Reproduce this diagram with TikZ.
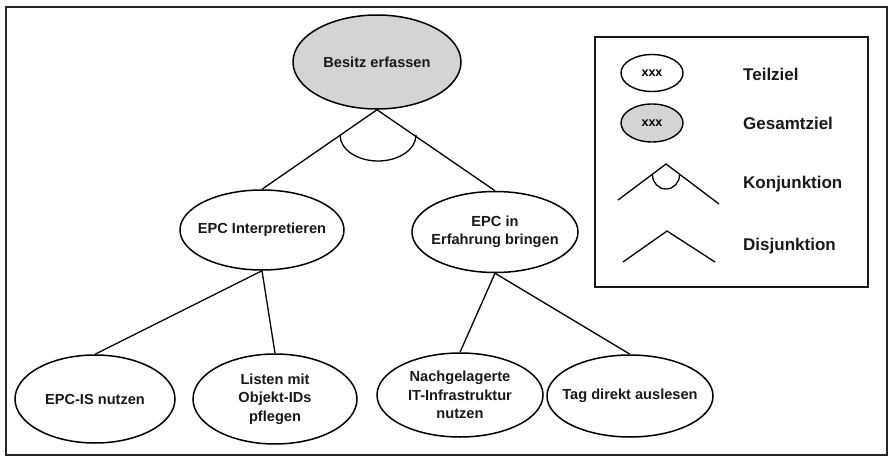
\documentclass[tikz,border=0pt]{standalone}
\usepackage{fontspec}
\setmainfont{Liberation Sans}
\usetikzlibrary{shapes.geometric}
\begin{document}
\begin{tikzpicture}[x=1pt,y=-1pt,
  goal/.style={ellipse, draw=black, line width=1.5pt, inner sep=0pt, fill=white},
  mainfill/.style={fill=black!17},
  txt/.style={align=center, inner sep=0pt, text=black!90, font=\bfseries\fontsize{14.6}{18.5}\selectfont},
  legtxt/.style={anchor=west, inner sep=0pt, text=black!90, font=\bfseries\fontsize{17}{19}\selectfont},
  xxx/.style={font=\bfseries\fontsize{12.5}{13}\selectfont},
  link/.style={line width=1.3pt, draw=black}]
\useasboundingbox (0,0) rectangle (891,457);
\draw[line width=2pt, draw=black!85] (6,7) rectangle (887,455);

% goal tree
\node[goal, mainfill, minimum width=168pt, minimum height=94pt,
      label={[txt]center:Besitz erfassen}] (top) at (377,62) {};
\node[goal, minimum width=164pt, minimum height=80pt,
      label={[txt]center:EPC Interpretieren}] (interp) at (262,230) {};
\node[goal, minimum width=166pt, minimum height=81pt,
      label={[txt]center:{EPC in\\Erfahrung bringen}}] (erf) at (495,232) {};
\node[goal, minimum width=160pt, minimum height=88pt,
      label={[txt]center:EPC-IS nutzen}] (epcis) at (95,399) {};
\node[goal, minimum width=164pt, minimum height=90pt,
      label={[txt]center:{Listen mit\\Objekt-IDs\\pflegen}}] (listen) at (275,399) {};
\node[goal, minimum width=166pt, minimum height=84pt,
      label={[txt]center:{Nachgelagerte\\IT-Infrastruktur\\nutzen}}] (nach) at (460,395) {};
\node[goal, minimum width=166pt, minimum height=82pt,
      label={[txt]center:Tag direkt auslesen}] (tag) at (630,396) {};

\draw[link] (top.south) -- (interp.north);
\draw[link] (top.south) -- (erf.north);
\coordinate (arcL) at (340,135);
\draw[link] (arcL) arc[start angle=180, end angle=360, x radius=38pt, y radius=26pt];

\draw[link] (interp.south) -- (epcis.north);
\draw[link] (interp.south) -- (listen.north);
\draw[link] (erf.south) -- (nach.north);
\draw[link] (erf.south) -- (tag.north);

% legend
\draw[line width=1.6pt, draw=black!90] (595,37) rectangle (868,287);
\node[goal, minimum width=62pt, minimum height=37pt, line width=1.4pt,
      label={[xxx]center:xxx}] (lteil) at (652,73) {};
\node[goal, mainfill, minimum width=62pt, minimum height=38pt, line width=1.4pt,
      label={[xxx]center:xxx}] (lges) at (652,123) {};
\node[legtxt] (tteil) at (743,74) {Teilziel};
\node[legtxt] (tges) at (743,123) {Gesamtziel};
\node[legtxt] (tkon) at (743,184) {Konjunktion};
\node[legtxt] (tdis) at (743,246) {Disjunktion};

\coordinate (k1) at (618,200);
\coordinate (k2) at (666,164);
\coordinate (k3) at (719,204);
\coordinate (ka) at (652.5,175);
\draw[link] (k1) -- (k2) -- (k3);
\draw[link] (ka) arc[start angle=180, end angle=360, x radius=13.5pt, y radius=14pt];

\coordinate (d1) at (623,262);
\coordinate (d2) at (667,231);
\coordinate (d3) at (715,262);
\draw[link] (d1) -- (d2) -- (d3);
\end{tikzpicture}
\end{document}
